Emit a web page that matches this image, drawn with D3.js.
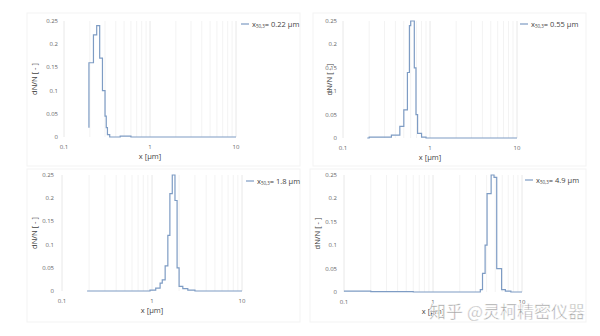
<!DOCTYPE html>
<html>
<head>
<meta charset="utf-8">
<script src="https://cdn.jsdelivr.net/npm/d3@7"></script>
<style>
  body { margin: 0; background: #fff; }
  svg { display: block; font-family: "Open Sans", "Liberation Sans", sans-serif; }
</style>
</head>
<body>
<div id="chart"></div>
<script>
// step edges (µm) and dN/N values
var x1 = [0.195, 0.195, 0.22, 0.24, 0.26, 0.28, 0.30, 0.31, 0.32, 0.34, 0.45, 0.6, 10];
var y1 = [0.02, 0.16, 0.22, 0.24, 0.17, 0.10, 0.045, 0.02, 0.005, 0, 0.002, 0, 0];

var x2 = [0.19, 0.2, 0.36, 0.45, 0.5, 0.55, 0.58, 0.6, 0.66, 0.69, 0.72, 0.8, 0.9, 10];
var y2 = [0, 0.002, 0.006, 0.025, 0.06, 0.14, 0.24, 0.25, 0.15, 0.05, 0.01, 0.002, 0, 0];

var x3 = [0.19, 0.95, 1.1, 1.23, 1.3, 1.4, 1.5, 1.58, 1.68, 1.8, 1.9, 2.0, 2.2, 2.5, 3, 10];
var y3 = [0, 0.002, 0.006, 0.017, 0.024, 0.054, 0.12, 0.21, 0.25, 0.195, 0.05, 0.01, 0.005, 0.002, 0, 0];

var x4 = [0.1, 0.2, 0.6, 3.4, 3.6, 3.85, 4.05, 4.5, 4.85, 5.2, 5.9, 6.5, 7.5, 10];
var y4 = [0.002, 0.001, 0, 0.005, 0.04, 0.1, 0.21, 0.25, 0.245, 0.05, 0.005, 0.002, 0, 0];

var legendValues = ["0.22", "0.55", "1.8", "4.9"];
var xTicks = [0.1, 1, 10];
var yTicks = [0, 0.05, 0.1, 0.15, 0.2, 0.25];

var W = 600, H = 336;
var lineColor = "#7e9cc4";
var svg = d3.select("#chart").append("svg").attr("width", W).attr("height", H);

// layout of the four panels
var panels = [
  {xs: x1, ys: y1, box: [27, 13, 300, 166], xr: [64, 236], yr: [137, 21], tickX: 58, yLab: 37, leg: [241, 24]},
  {xs: x2, ys: y2, box: [313, 13, 586, 166], xr: [343, 517], yr: [138, 21], tickX: 337, yLab: 332, leg: [520, 24]},
  {xs: x3, ys: y3, box: [27, 169, 300, 322], xr: [62, 242], yr: [291, 175], tickX: 54, yLab: 37, leg: [246, 181]},
  {xs: x4, ys: y4, box: [310, 169, 586, 322], xr: [344, 522], yr: [292, 175], tickX: 337, yLab: 320, leg: [525, 180]}
];

panels.forEach(function(p, k) {
  var g = svg.append("g");

  g.append("rect")
    .attr("x", p.box[0]).attr("y", p.box[1])
    .attr("width", p.box[2] - p.box[0]).attr("height", p.box[3] - p.box[1])
    .style("fill", "#fff").style("stroke", "#f3f3f3");

  var x = d3.scaleLog().domain([0.1, 10]).range(p.xr);
  var y = d3.scaleLinear().domain([0, 0.25]).range(p.yr);

  // log gridlines (major + minor)
  var grid = [];
  [0.1, 1].forEach(function(d) { for (var i = 1; i < 10; i++) grid.push(d * i); });
  grid.push(10);
  g.selectAll(".vg").data(grid).enter().append("line")
    .attr("x1", function(d) { return x(d); }).attr("x2", function(d) { return x(d); })
    .attr("y1", y(0)).attr("y2", y(0.25))
    .style("stroke", function(d) { return (d == 0.1 || d == 1 || d == 10) ? "#e8e8e8" : "#f3f3f3"; })
    .style("stroke-width", 1);

  // y tick labels
  g.selectAll(".yt").data(yTicks).enter().append("text")
    .attr("x", p.tickX).attr("y", function(d) { return y(d) + 2; })
    .attr("text-anchor", "end")
    .style("font-size", "6px").style("fill", "#666")
    .text(function(d) { return d; });

  // x tick labels
  g.selectAll(".xt").data(xTicks).enter().append("text")
    .attr("x", function(d) { return x(d); }).attr("y", p.yr[0] + 12)
    .attr("text-anchor", "middle")
    .style("font-size", "6px").style("fill", "#666")
    .text(function(d) { return d; });

  // axis titles
  g.append("text")
    .attr("x", (p.xr[0] + p.xr[1]) / 2).attr("y", p.yr[0] + 22)
    .attr("text-anchor", "middle")
    .style("font-size", "7.5px").style("fill", "#444")
    .text("x [µm]");

  g.append("text")
    .attr("transform", "translate(" + p.yLab + "," + ((p.yr[0] + p.yr[1]) / 2) + ") rotate(-90)")
    .attr("text-anchor", "middle")
    .style("font-size", "7.5px").style("fill", "#444")
    .text("dN/N [ - ]");

  // step curve
  var pts = p.xs.map(function(d, i) { return [d, p.ys[i]]; });
  var line = d3.line()
    .x(function(d) { return x(d[0]); })
    .y(function(d) { return y(d[1]); })
    .curve(d3.curveStepAfter);
  g.append("path").datum(pts)
    .attr("d", line)
    .style("fill", "none").style("stroke", lineColor).style("stroke-width", 1.2);

  // legend
  g.append("line")
    .attr("x1", p.leg[0]).attr("x2", p.leg[0] + 8)
    .attr("y1", p.leg[1]).attr("y2", p.leg[1])
    .style("stroke", lineColor).style("stroke-width", 1.2);
  var t = g.append("text")
    .attr("x", p.leg[0] + 11).attr("y", p.leg[1] + 2.5)
    .style("font-size", "7.5px").style("fill", "#444");
  t.append("tspan").text("x");
  t.append("tspan").attr("dy", 1.5).style("font-size", "4.5px").text("50,3");
  t.append("tspan").attr("dy", -1.5).text("= " + legendValues[k] + " µm");
});

// watermark
svg.append("text")
  .attr("x", 585).attr("y", 318)
  .attr("text-anchor", "end")
  .style("font-family", "'Noto Sans CJK SC', sans-serif")
  .style("font-size", "17px")
  .style("fill", "#a0a0a0")
  .style("stroke", "#fff").style("stroke-width", 0.5)
  .text("知乎 @灵柯精密仪器");
</script>
</body>
</html>
